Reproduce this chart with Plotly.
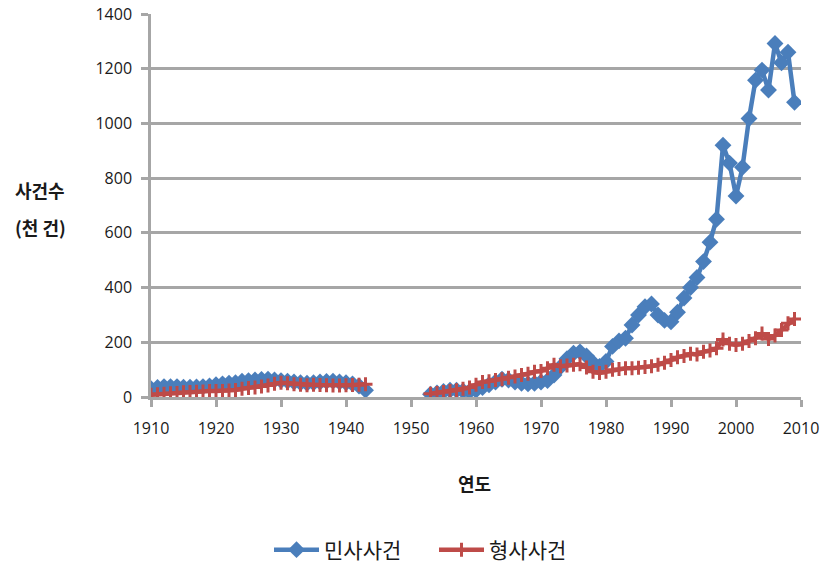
import plotly.graph_objects as go

years_early = list(range(1910, 1944))
years_late = list(range(1953, 2010))

civil_early = [30, 35, 38, 38, 38, 36, 36, 37, 38, 40, 45, 48, 50, 52, 58, 60, 62, 64, 65, 62,
               60, 58, 55, 52, 50, 52, 55, 57, 58, 55, 52, 48, 40, 25]
criminal_early = [8, 10, 12, 14, 15, 17, 18, 19, 20, 22, 22, 22, 24, 26, 30, 33, 35, 38, 42, 48,
                  52, 50, 47, 45, 43, 45, 44, 43, 42, 42, 43, 44, 45, 47]

civil_late = [10, 15, 20, 25, 25, 22, 20, 25, 35, 45, 55, 65, 62, 55, 50, 48, 50, 55, 60, 80,
              110, 140, 160, 165, 150, 125, 112, 130, 185, 205, 215, 263, 300, 330, 340, 300,
              280, 275, 310, 362, 400, 437, 495, 566, 650, 920, 855, 735, 840, 1018, 1158, 1195,
              1122, 1292, 1222, 1260, 1077]
criminal_late = [12, 15, 18, 22, 25, 30, 35, 45, 55, 58, 62, 65, 70, 75, 80, 85, 92, 95, 105, 118,
                 112, 115, 118, 120, 108, 92, 88, 92, 100, 102, 105, 105, 107, 110, 112, 118,
                 125, 135, 145, 150, 158, 155, 165, 170, 178, 210, 195, 190, 195, 205, 215, 232,
                 212, 225, 245, 270, 285]

x_vals = years_early + [1948] + years_late
civil = civil_early + [None] + civil_late
criminal = criminal_early + [None] + criminal_late

y_ticks = [0, 200, 400, 600, 800, 1000, 1200, 1400]
x_ticks = list(range(1910, 2011, 10))

BLUE = "#4a7ebb"
RED = "#be4b48"
GRID = "#a6a6a6"
TXT = "#1a1a1a"

fig = go.Figure()
fig.add_trace(go.Scatter(
    x=x_vals, y=civil, name="민사사건", mode="lines+markers", connectgaps=False,
    line=dict(color=BLUE, width=4.5),
    marker=dict(symbol="diamond", size=13, color=BLUE),
))
fig.add_trace(go.Scatter(
    x=x_vals, y=criminal, name="형사사건", mode="lines+markers", connectgaps=False,
    line=dict(color=RED, width=4.5),
    marker=dict(symbol="cross-thin", size=10, color=RED, line=dict(color=RED, width=3)),
))

PH = 383
PW = 650
X0 = 151  # page x of plot left
Y0 = 397  # page y of plot bottom

fig.update_layout(
    width=826, height=567,
    margin=dict(l=151, r=25, t=14, b=170, autoexpand=False),
    plot_bgcolor="white", paper_bgcolor="white",
    font=dict(family="Open Sans, Noto Sans CJK KR", size=16, color=TXT),
    showlegend=True,
    legend=dict(orientation="h", x=(269 - X0) / PW, xanchor="left",
                y=-(550 - Y0) / PH, yanchor="middle",
                font=dict(family="Noto Sans CJK KR", size=21, color=TXT),
                itemwidth=45, entrywidth=105, entrywidthmode="pixels"),
    xaxis=dict(range=[1910, 2010], tickvals=x_ticks, showgrid=False, zeroline=False,
               showline=True, linecolor=GRID, linewidth=2.5,
               ticks="outside", ticklen=7, tickwidth=2.5, tickcolor=GRID,
               tickfont=dict(size=16), ticklabelstandoff=8),
    yaxis=dict(range=[0, 1400], tickvals=y_ticks, showgrid=True, gridcolor=GRID, gridwidth=2.5,
               zeroline=False, showline=True, linecolor=GRID, linewidth=2.5,
               ticks="outside", ticklen=7, tickwidth=2.5, tickcolor=GRID,
               tickfont=dict(size=16), ticklabelstandoff=6),
)

fig.add_annotation(text="<b>사건수</b>", xref="paper", yref="paper",
                   x=(40 - X0) / PW, y=(Y0 - 190) / PH, xanchor="center", yanchor="middle",
                   showarrow=False,
                   font=dict(family="Noto Sans CJK KR", size=18, color=TXT))
fig.add_annotation(text="<b>(천 건)</b>", xref="paper", yref="paper",
                   x=(40 - X0) / PW, y=(Y0 - 227) / PH, xanchor="center", yanchor="middle",
                   showarrow=False,
                   font=dict(family="Noto Sans CJK KR", size=18, color=TXT))
fig.add_annotation(text="<b>연도</b>", xref="paper", yref="paper",
                   x=(474 - X0) / PW, y=-(483 - Y0) / PH, xanchor="center", yanchor="middle",
                   showarrow=False,
                   font=dict(family="Noto Sans CJK KR", size=18, color=TXT))

fig.write_html(
    "out.html",
    config={"displayModeBar": False},
    post_script="document.body.style.margin='0';document.body.style.padding='0';",
)
